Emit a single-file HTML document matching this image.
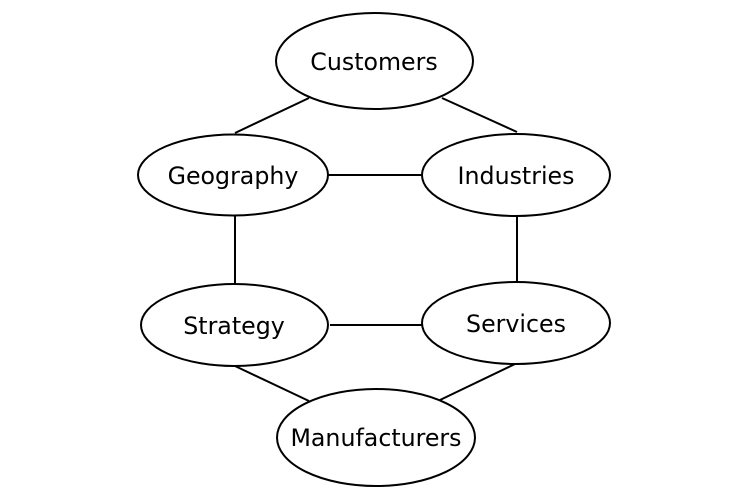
<!DOCTYPE html>
<html><head><meta charset="utf-8"><style>
html,body{margin:0;padding:0;background:#fff;}
svg{display:block;}
text{font-family:"DejaVu Sans","Liberation Sans",sans-serif;font-size:23.7px;fill:#000;text-anchor:middle;dominant-baseline:central;}
</style></head><body>
<svg width="750" height="500" viewBox="0 0 750 500">
<g stroke="#000" stroke-width="2" fill="none">
<line x1="309" y1="98" x2="235" y2="133"/>
<line x1="442" y1="98" x2="517" y2="132"/>
<line x1="328" y1="175" x2="422" y2="175"/>
<line x1="235" y1="216" x2="235" y2="284"/>
<line x1="517" y1="216" x2="517" y2="282"/>
<line x1="330" y1="325" x2="422" y2="325"/>
<line x1="235" y1="366" x2="309" y2="401"/>
<line x1="515" y1="364" x2="440" y2="400"/>
</g>
<g stroke="#000" stroke-width="2" fill="#fff">
<ellipse cx="374.5" cy="61" rx="98.5" ry="48"/>
<ellipse cx="233" cy="175" rx="95" ry="40.5"/>
<ellipse cx="516" cy="175" rx="94" ry="41"/>
<ellipse cx="234.5" cy="325" rx="93.5" ry="41"/>
<ellipse cx="516" cy="323" rx="94" ry="41"/>
<ellipse cx="376" cy="437.5" rx="99" ry="48.5"/>
</g>
<text x="374" y="62">Customers</text>
<text x="233" y="176">Geography</text>
<text x="516" y="176">Industries</text>
<text x="234" y="326">Strategy</text>
<text x="516" y="324">Services</text>
<text x="376" y="438">Manufacturers</text>
</svg>
</body></html>
